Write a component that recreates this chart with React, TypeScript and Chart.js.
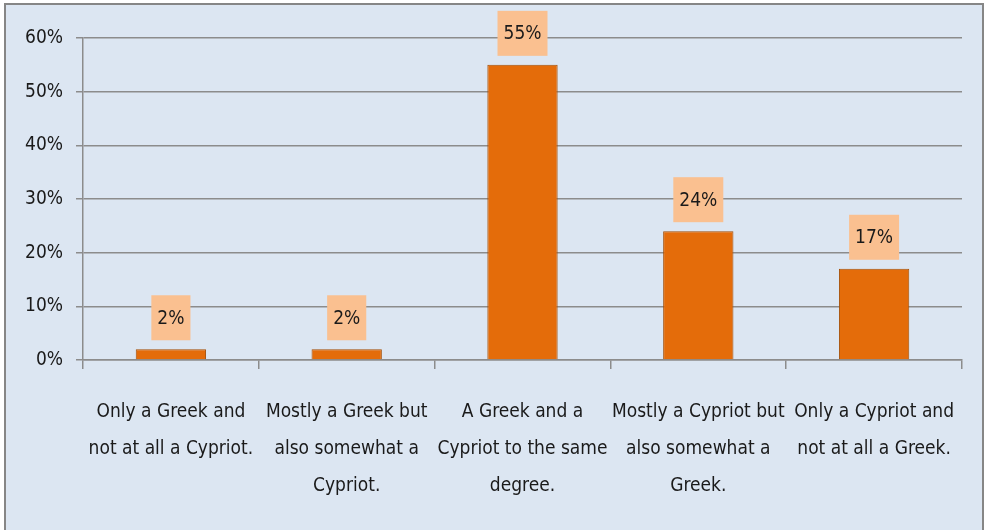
import React, { useEffect, useRef } from "react";
import { Chart, registerables } from "chart.js";

Chart.register(...registerables);

const categories: string[][] = [
  ["Only a Greek and", "not at all a Cypriot."],
  ["Mostly a Greek but", "also somewhat a", "Cypriot."],
  ["A Greek and a", "Cypriot to the same", "degree."],
  ["Mostly a Cypriot but", "also somewhat a", "Greek."],
  ["Only a Cypriot and", "not at all a Greek."],
];
const values: number[] = [2, 2, 55, 24, 17];
const valueLabels: string[] = ["2%", "2%", "55%", "24%", "17%"];

const FONT = "'Liberation Sans Narrow', 'Arial Narrow', 'DejaVu Sans Condensed', sans-serif";

const framePlugin = {
  id: "frame",
  beforeDraw(chart: any) {
    const { ctx, width, height } = chart;
    ctx.save();
    ctx.fillStyle = "#ffffff";
    ctx.fillRect(0, 0, width, height);
    ctx.fillStyle = "#dce6f2";
    ctx.fillRect(4, 3, 980, height);
    ctx.strokeStyle = "#868686";
    ctx.lineWidth = 2;
    ctx.strokeRect(5, 4, 978, height + 10);
    ctx.restore();
  },
};

const labelPlugin = {
  id: "valueBoxes",
  afterDatasetsDraw(chart: any) {
    const { ctx } = chart;
    const meta = chart.getDatasetMeta(0);
    ctx.save();
    ctx.font = `19px ${FONT}`;
    ctx.textAlign = "center";
    ctx.textBaseline = "middle";
    meta.data.forEach((bar: any, i: number) => {
      const text = valueLabels[i];
      const tw = ctx.measureText(text).width;
      const w = tw + 12;
      const h = 45;
      const bottom = bar.y - 9;
      const top = bottom - h;
      ctx.fillStyle = "#fac090";
      ctx.fillRect(bar.x - w / 2, top, w, h);
      ctx.fillStyle = "#1a1a1a";
      ctx.fillText(text, bar.x, top + h / 2 + 1);
    });
    ctx.restore();
  },
};

export default function App() {
  const ref = useRef<HTMLCanvasElement | null>(null);
  useEffect(() => {
    document.body.style.margin = "0";
    const canvas = ref.current!;
    const chart = new Chart(canvas, {
      type: "bar",
      data: {
        labels: categories,
        datasets: [
          {
            data: values,
            backgroundColor: "#e46c0a",
            borderColor: "#a44f08",
            borderWidth: 1,
            categoryPercentage: 1,
            barPercentage: 0.4,
          },
        ],
      },
      options: {
        animation: false,
        responsive: false,
        maintainAspectRatio: false,
        devicePixelRatio: 1,
        layout: { padding: { left: 0, top: 38, right: 23, bottom: 0 } },
        plugins: {
          legend: { display: false },
          tooltip: { enabled: false },
          title: { display: false },
        },
        scales: {
          x: {
            offset: true,
            grid: {
              offset: true,
              drawOnChartArea: false,
              drawTicks: true,
              tickLength: 9,
              color: "#8c8c8c",
              lineWidth: 1.5,
            },
            border: { display: true, color: "#8c8c8c", width: 1.5 },
            ticks: {
              color: "#1a1a1a",
              font: { family: FONT, size: 19, lineHeight: "37px" as any },
              padding: 25,
              maxRotation: 0,
              minRotation: 0,
              autoSkip: false,
            },
            afterFit(scale: any) {
              scale.height = 170;
              scale.paddingLeft = 0;
              scale.paddingRight = 0;
            },
          },
          y: {
            min: 0,
            max: 60,
            ticks: {
              stepSize: 10,
              color: "#1a1a1a",
              font: { family: FONT, size: 19 },
              padding: 13,
              callback: (v: any) => `${v}%`,
            },
            grid: {
              color: "#8c8c8c",
              lineWidth: 1.5,
              drawTicks: true,
              tickLength: 7,
            },
            border: { display: true, color: "#8c8c8c", width: 1.5 },
            afterFit(scale: any) {
              scale.width = 83;
              scale.paddingTop = 0;
              scale.paddingBottom = 0;
            },
          },
        },
      },
      plugins: [framePlugin, labelPlugin],
    });
    return () => chart.destroy();
  }, []);
  return (
    <div style={{ width: 985, height: 530 }}>
      <canvas ref={ref} width={985} height={530} style={{ display: "block", width: 985, height: 530 }} />
    </div>
  );
}
